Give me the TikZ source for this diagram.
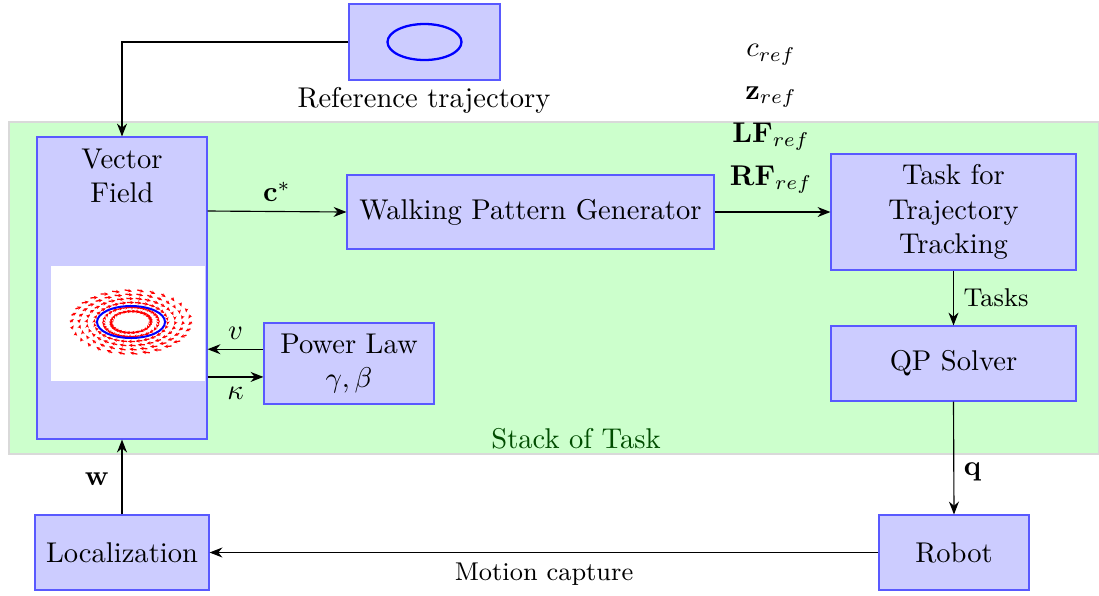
\documentclass[tikz,border=0pt]{standalone}
\usepackage{amsmath}
\usepackage{xcolor}
\usepackage{tikz}
\usetikzlibrary{arrows.meta,calc}

\begin{document}
\begin{tikzpicture}[x=0.35pt,y=-0.35pt, >={Stealth[length=4.5pt,width=3.5pt]},
    block/.style={draw=blue!65, fill=blue!20, align=center, inner sep=2pt},
    vfarrow/.style={red, line width=0.45pt, -{Stealth[length=1.4pt,width=1.2pt]}}]
    \useasboundingbox (0,0) rectangle (1099,595);
    % stack of task area
    \fill[green!20, draw=gray!30] (9,122) rectangle (1099,454);
    \node[text=green!30!black] (sot) at (576,439) {Stack of Task};

    \node[block, minimum width=52.85pt, minimum height=26.6pt] (ref) at (424.5,42) {};
    \draw[blue, thick] (ref.center) ellipse (37 and 18);
    \node (reflabel) at (424,100) {Reference trajectory};

    \node[block, minimum width=59.5pt, minimum height=105.7pt] (vf) at (122,288) {};
    \node[align=center] (vftext) at (122,176) {Vector\\Field};
    \fill[white] (51,266) rectangle (205,381);
    \foreach \s in {0.6,0.85,1.15,1.4,1.65,1.9}
        \foreach \a in {0,12,...,348}
            \draw[vfarrow] ({131+\s*32*cos(\a)},{322+\s*17*sin(\a)})
                -- ++({-7*sin(\a)+4*(1-\s)*cos(\a)},{3*cos(\a)+2*(1-\s)*sin(\a)});
    \draw[blue, line width=0.7pt] (131,322) ellipse (34 and 16);

    \node[block, minimum width=128.45pt, minimum height=25.9pt] (wpg) at (530.5,212) {Walking Pattern Generator};
    \node[block, minimum width=85.75pt, minimum height=40.6pt] (task) at (953.5,212) {Task for\\Trajectory\\Tracking};
    \node[block, minimum width=85.75pt, minimum height=26.25pt] (qp) at (953.5,363.5) {QP Solver};
    \node[block, minimum width=59.5pt, minimum height=28.35pt] (pl) at (349,363.5) {Power Law\\$\gamma,\beta$};
    \node[block, minimum width=52.5pt, minimum height=26.25pt] (robot) at (954,552.5) {Robot};
    \node[block, minimum width=60.9pt, minimum height=26.25pt] (loc) at (122,552.5) {Localization};
    \node[align=center] (reflist) at (771,119) {$c_{ref}$\\[3pt] $\mathbf{z}_{ref}$\\[3pt] $\mathbf{LF}_{ref}$\\[3pt] $\mathbf{RF}_{ref}$};

    \draw[->] (ref.west) -| (vf.north);
    \draw[->] (vf.east |- 0,211) -- (wpg.west) node[midway, above] {$\mathbf{c}^*$};
    \draw[->] (wpg.east) -- (task.west);
    \draw[->] (task.south) -- (qp.north) node[midway, right] {\small Tasks};
    \draw[->] ([yshift=5pt]pl.west) -- ([yshift=5pt]pl.west -| vf.east) node[midway, above] {$v$};
    \draw[->] ([yshift=-4.7pt]pl.west -| vf.east) -- ([yshift=-4.7pt]pl.west) node[midway, below] {$\kappa$};
    \draw[->] (qp.south) -- (robot.north) node[pos=0.62, right] {$\mathbf{q}$};
    \draw[->] (robot.west) -- (loc.east) node[midway, below] {\small Motion capture};
    \draw[->] (loc.north) -- (vf.south) node[pos=0.47, left, xshift=-1pt] {$\mathbf{w}$};
\end{tikzpicture}
\end{document}
